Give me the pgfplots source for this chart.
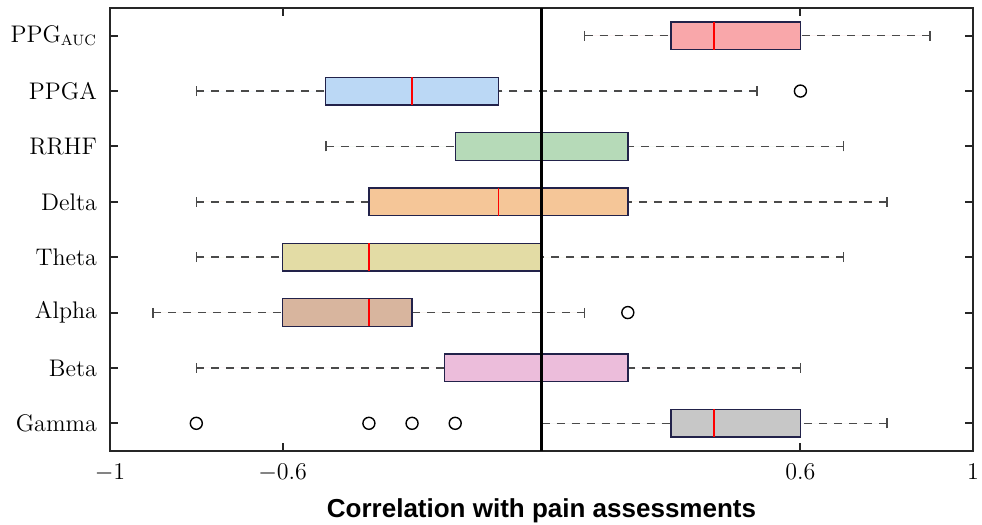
\documentclass[border=0pt]{standalone}
\usepackage{pgfplots}
\pgfplotsset{compat=1.18}
\usepgfplotslibrary{statistics}
\usepackage{fontspec}
\newfontfamily\labelfont{Liberation Sans}
\definecolor{cA}{HTML}{F9A7AA}
\definecolor{cB}{HTML}{BBD8F5}
\definecolor{cC}{HTML}{B6DAB8}
\definecolor{cD}{HTML}{F5C698}
\definecolor{cE}{HTML}{E3DCA5}
\definecolor{cF}{HTML}{D8B59E}
\definecolor{cG}{HTML}{ECBDDB}
\definecolor{cH}{HTML}{C7C7C7}
\definecolor{boxedge}{HTML}{22224A}
\definecolor{whisk}{HTML}{4A4A4A}
\begin{document}
\begin{tikzpicture}
\begin{axis}[
  scale only axis,
  width=431.5pt, height=221.5pt,
  xmin=-1, xmax=1, ymin=0.5, ymax=8.5,
  xtick={-1,-0.6,0.6,1},
  ytick={1,2,3,4,5,6,7,8},
  yticklabels={Gamma,Beta,Alpha,Theta,Delta,RRHF,PPGA,PPG\textsubscript{\fontsize{7.5}{8}\selectfont AUC}},
  tick align=inside,
  major tick length=4pt,
  axis line style={line width=1pt, black!85},
  every tick/.style={line width=1pt, black!85},
  ticklabel style={font=\fontsize{12}{14}\selectfont},
  xticklabel style={yshift=-3pt},
  yticklabel style={xshift=-3pt},
  xlabel={Correlation with pain assessments},
  xlabel style={font=\labelfont\bfseries\fontsize{13}{15}\selectfont, yshift=-1.5pt},
  boxplot/draw direction=x,
  boxplot/box extend=0.5,
  boxplot/every whisker/.style={draw=whisk, line width=0.8pt, dash pattern=on 4pt off 3.5pt},
  boxplot/every median/.style={draw=red, line width=0.8pt},
  boxplot/every box/.style={draw=boxedge, line width=0.7pt},
  boxplot/draw/lower whisker/.code={
    \draw[/pgfplots/boxplot/every whisker/.try] (boxplot box cs:\pgfplotsboxplotvalue{lower whisker},0.5) -- (boxplot box cs:\pgfplotsboxplotvalue{lower quartile},0.5);
    \draw[/pgfplots/boxplot/every whisker/.try, solid] (boxplot box cs:\pgfplotsboxplotvalue{lower whisker},0.32) -- (boxplot box cs:\pgfplotsboxplotvalue{lower whisker},0.68);
  },
  boxplot/draw/upper whisker/.code={
    \draw[/pgfplots/boxplot/every whisker/.try] (boxplot box cs:\pgfplotsboxplotvalue{upper whisker},0.5) -- (boxplot box cs:\pgfplotsboxplotvalue{upper quartile},0.5);
    \draw[/pgfplots/boxplot/every whisker/.try, solid] (boxplot box cs:\pgfplotsboxplotvalue{upper whisker},0.32) -- (boxplot box cs:\pgfplotsboxplotvalue{upper whisker},0.68);
  },
]
% PPG_AUC
\addplot[fill=cA, boxplot prepared={draw position=8, lower whisker=0.1, lower quartile=0.3, median=0.4, upper quartile=0.6, upper whisker=0.9}] coordinates {};
% PPGA
\addplot[fill=cB, boxplot prepared={draw position=7, lower whisker=-0.8, lower quartile=-0.5, median=-0.3, upper quartile=-0.1, upper whisker=0.5}] coordinates {};
% RRHF
\addplot[fill=cC, boxplot prepared={draw position=6, lower whisker=-0.5, lower quartile=-0.2, median=0, upper quartile=0.2, upper whisker=0.7}] coordinates {};
% Delta
\addplot[fill=cD, boxplot prepared={draw position=5, lower whisker=-0.8, lower quartile=-0.4, median=-0.1, upper quartile=0.2, upper whisker=0.8}] coordinates {};
% Theta
\addplot[fill=cE, boxplot prepared={draw position=4, lower whisker=-0.8, lower quartile=-0.6, median=-0.4, upper quartile=0, upper whisker=0.7}] coordinates {};
% Alpha
\addplot[fill=cF, boxplot prepared={draw position=3, lower whisker=-0.9, lower quartile=-0.6, median=-0.4, upper quartile=-0.3, upper whisker=0.1}] coordinates {};
% Beta
\addplot[fill=cG, boxplot prepared={draw position=2, lower whisker=-0.8, lower quartile=-0.225, median=0, upper quartile=0.2, upper whisker=0.6}] coordinates {};
% Gamma
\addplot[fill=cH, boxplot prepared={draw position=1, lower whisker=0, lower quartile=0.3, median=0.4, upper quartile=0.6, upper whisker=0.8}] coordinates {};
% outliers
\addplot[only marks, mark=o, mark size=3pt, black, mark options={line width=0.7pt}] coordinates {(0.6,7) (0.2,3) (-0.8,1) (-0.4,1) (-0.3,1) (-0.2,1)};
% zero line
\addplot[black, line width=1.5pt] coordinates {(0,0.5) (0,8.5)};
\end{axis}
\pgfresetboundingbox
\path ([shift={(-55pt,-36.5pt)}]current axis.south west) rectangle ([shift={(4.5pt,4pt)}]current axis.north east);
\end{tikzpicture}
\end{document}
